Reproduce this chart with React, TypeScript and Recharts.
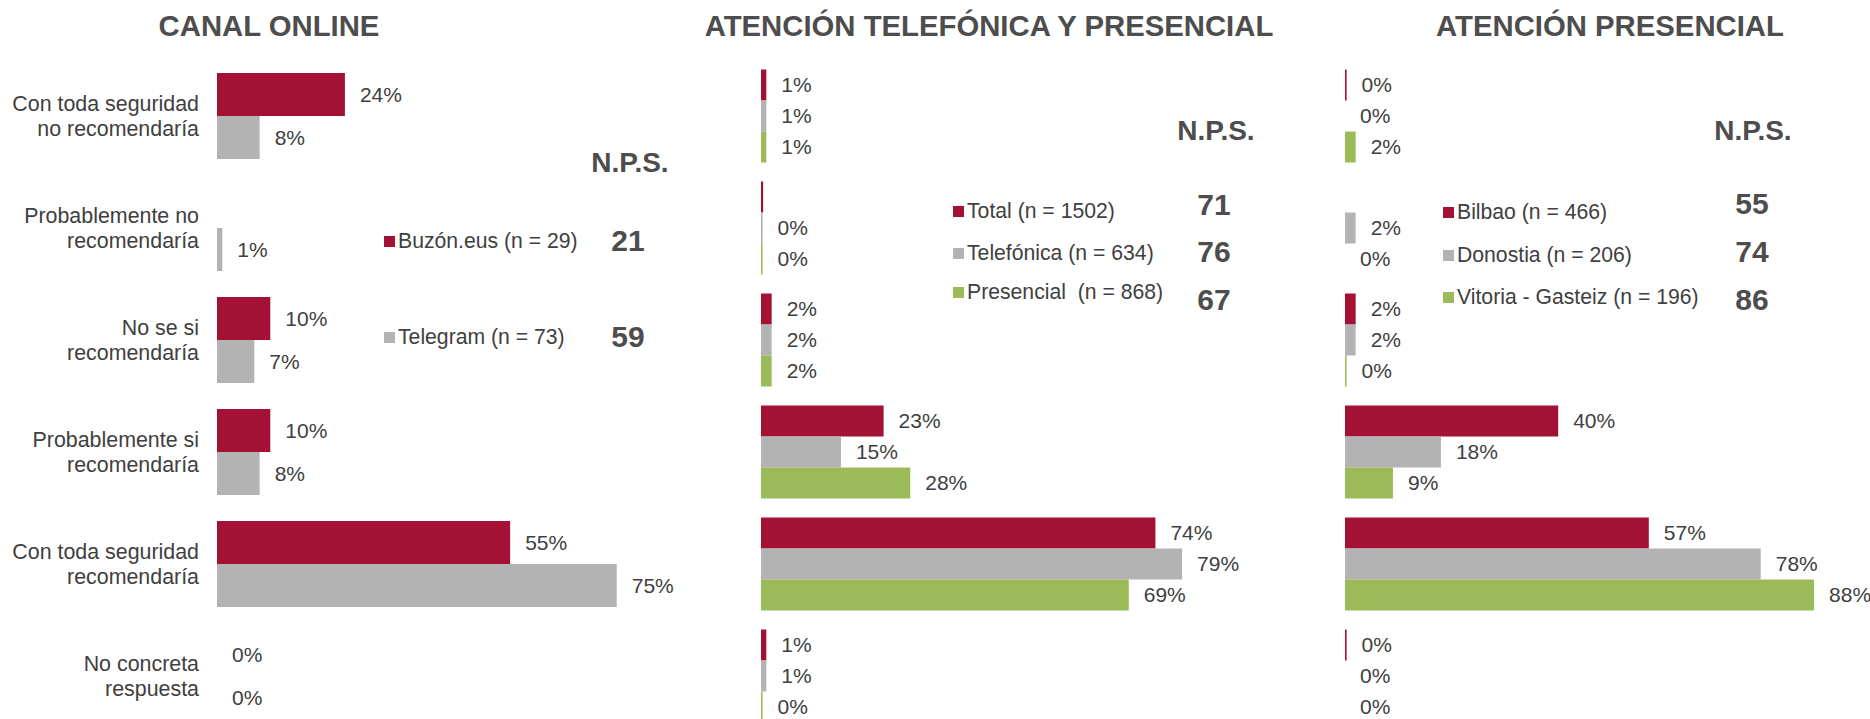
import React from "react";
import { BarChart, Bar, XAxis, YAxis, LabelList } from "recharts";

const categories = [
  "Con toda seguridad\nno recomendaría",
  "Probablemente no\nrecomendaría",
  "No se si\nrecomendaría",
  "Probablemente si\nrecomendaría",
  "Con toda seguridad\nrecomendaría",
  "No concreta\nrespuesta",
];

const titles = ["CANAL ONLINE", "ATENCIÓN TELEFÓNICA Y PRESENCIAL", "ATENCIÓN PRESENCIAL"];

// canal online
const buzon = [24, 0, 10, 10, 55, 0];
const buzonLabels = ["24%", "", "10%", "10%", "55%", "0%"];
const telegram = [8, 1, 7, 8, 75, 0];
const telegramLabels = ["8%", "1%", "7%", "8%", "75%", "0%"];
const onlineNames = ["Buzón.eus (n = 29)", "Telegram (n = 73)"];
const onlineNps = [21, 59];

// atención telefónica y presencial
const total = [1, 0.4, 2, 23, 74, 1];
const totalLabels = ["1%", "", "2%", "23%", "74%", "1%"];
const telefonica = [1, 0.3, 2, 15, 79, 1];
const telefonicaLabels = ["1%", "0%", "2%", "15%", "79%", "1%"];
const presencial = [1, 0.3, 2, 28, 69, 0.3];
const presencialLabels = ["1%", "0%", "2%", "28%", "69%", "0%"];
const telNames = ["Total (n = 1502)", "Telefónica (n = 634)", "Presencial  (n = 868)"];
const telNps = [71, 76, 67];

// atención presencial
const bilbao = [0.3, 0, 2, 40, 57, 0.3];
const bilbaoLabels = ["0%", "", "2%", "40%", "57%", "0%"];
const donostia = [0, 2, 2, 18, 78, 0];
const donostiaLabels = ["0%", "2%", "2%", "18%", "78%", "0%"];
const vitoria = [2, 0, 0.3, 9, 88, 0];
const vitoriaLabels = ["2%", "0%", "0%", "9%", "88%", "0%"];
const presNames = ["Bilbao (n = 466)", "Donostia (n = 206)", "Vitoria - Gasteiz (n = 196)"];
const presNps = [55, 74, 86];

const RED = "#A31135";
const GRAY = "#B3B3B3";
const GREEN = "#9BBB59";
const TEXT = "#404040";
const BOLD = "#4D4D4D";
const FONT = "'Liberation Sans', Arial, sans-serif";

interface Serie {
  values: number[];
  labels: string[];
  color: string;
}

const CatTick = (props: any) => {
  const { y, payload } = props;
  const lines = String(payload.value).split("\n");
  return (
    <text x={199} y={y} textAnchor="end" fill={TEXT} fontSize={21.4} fontFamily={FONT}>
      {lines.map((ln, k) => (
        <tspan key={k} x={199} dy={k === 0 ? -((lines.length - 1) * 25) / 2 + 7 : 25}>
          {ln}
        </tspan>
      ))}
    </text>
  );
};

const valueLabel = (p: any) => {
  const { x, y, width, height, value } = p;
  if (!value) return null;
  return (
    <text x={x + width + 15} y={y + height / 2} dy={7} fill={TEXT} fontSize={21} fontFamily={FONT}>
      {value}
    </text>
  );
};

function Panel({ left, plotLeft, series, showCats, gap }: {
  left: number; plotLeft: number; series: Serie[]; showCats: boolean; gap: number;
}) {
  const data = categories.map((cat, i) => {
    const row: any = { cat };
    series.forEach((s, j) => {
      row["v" + j] = s.values[i];
      row["l" + j] = s.labels[i];
    });
    return row;
  });
  const width = plotLeft + 533 + 150;
  return (
    <div style={{ position: "absolute", left, top: 0 }}>
      <BarChart
        width={width}
        height={740}
        data={data}
        layout="vertical"
        margin={{ top: 60, right: 150, bottom: 8, left: showCats ? 0 : plotLeft }}
        barGap={0}
        barCategoryGap={gap}
      >
        <XAxis type="number" domain={[0, 100]} hide />
        <YAxis
          type="category"
          dataKey="cat"
          hide={!showCats}
          width={plotLeft}
          axisLine={false}
          tickLine={false}
          interval={0}
          tick={<CatTick />}
        />
        {series.map((s, j) => (
          <Bar key={j} dataKey={"v" + j} fill={s.color} minPointSize={0.01} isAnimationActive={false}>
            <LabelList dataKey={"l" + j} content={valueLabel} />
          </Bar>
        ))}
      </BarChart>
    </div>
  );
}

function Legend({ names, colors, nps, sqLeft, rowsY, npsX, npsY, headY, headX }: {
  names: string[]; colors: string[]; nps: number[]; sqLeft: number; rowsY: number[];
  npsX: number; npsY: number[]; headY: number; headX: number;
}) {
  return (
    <>
      <div style={{ position: "absolute", left: headX, top: headY - 17, transform: "translateX(-50%)", fontSize: 28, lineHeight: "34px", fontWeight: "bold", color: BOLD, whiteSpace: "nowrap" }}>
        N.P.S.
      </div>
      {names.map((n, i) => (
        <React.Fragment key={n}>
          <div style={{ position: "absolute", left: sqLeft, top: rowsY[i] - 5, width: 11, height: 11, background: colors[i] }} />
          <div style={{ position: "absolute", left: sqLeft + 14, top: rowsY[i] - 13, fontSize: 21.2, lineHeight: "26px", color: TEXT, whiteSpace: "pre" }}>
            {n}
          </div>
          <div style={{ position: "absolute", left: npsX, top: npsY[i] - 18, transform: "translateX(-50%)", fontSize: 30, lineHeight: "36px", fontWeight: "bold", color: BOLD }}>
            {nps[i]}
          </div>
        </React.Fragment>
      ))}
    </>
  );
}

export default function App() {
  const titleX = [269, 989, 1610];
  return (
    <div style={{ position: "fixed", left: 0, top: 0, width: 1870, height: 719, overflow: "hidden", background: "#fff", fontFamily: FONT }}>
      {titles.map((t, i) => (
        <div key={t} style={{ position: "absolute", left: titleX[i], top: 8, transform: "translateX(-50%)", fontSize: 29.3, lineHeight: "36px", fontWeight: "bold", color: BOLD, whiteSpace: "nowrap" }}>
          {t}
        </div>
      ))}
      <Panel
        left={0}
        plotLeft={217}
        showCats
        gap={13}
        series={[
          { values: buzon, labels: buzonLabels, color: RED },
          { values: telegram, labels: telegramLabels, color: GRAY },
        ]}
      />
      <Panel
        left={700}
        plotLeft={61}
        showCats={false}
        gap={9.5}
        series={[
          { values: total, labels: totalLabels, color: RED },
          { values: telefonica, labels: telefonicaLabels, color: GRAY },
          { values: presencial, labels: presencialLabels, color: GREEN },
        ]}
      />
      <Panel
        left={1300}
        plotLeft={45}
        showCats={false}
        gap={9.5}
        series={[
          { values: bilbao, labels: bilbaoLabels, color: RED },
          { values: donostia, labels: donostiaLabels, color: GRAY },
          { values: vitoria, labels: vitoriaLabels, color: GREEN },
        ]}
      />
      <Legend names={onlineNames} colors={[RED, GRAY]} nps={onlineNps} sqLeft={384} rowsY={[241, 337]} npsX={628} npsY={[241, 337]} headX={630} headY={163} />
      <Legend names={telNames} colors={[RED, GRAY, GREEN]} nps={telNps} sqLeft={953} rowsY={[211, 253, 292]} npsX={1214} npsY={[205, 252, 300]} headX={1216} headY={131} />
      <Legend names={presNames} colors={[RED, GRAY, GREEN]} nps={presNps} sqLeft={1443} rowsY={[212, 255, 297]} npsX={1752} npsY={[204, 252, 300]} headX={1753} headY={131} />
    </div>
  );
}
